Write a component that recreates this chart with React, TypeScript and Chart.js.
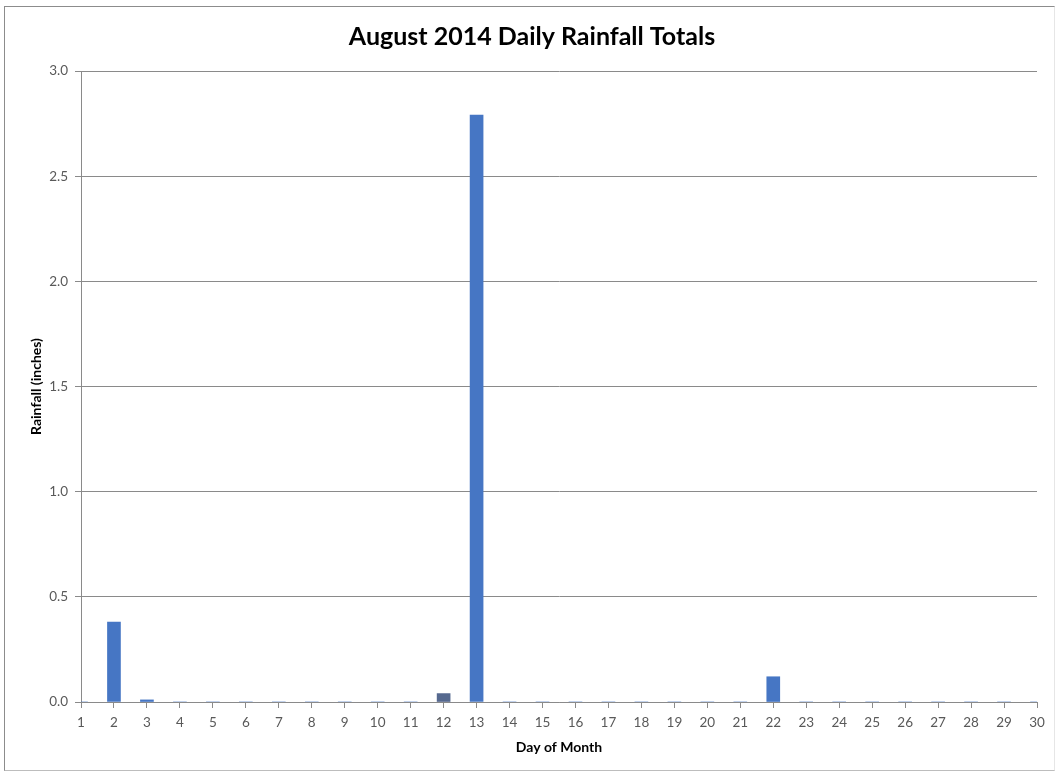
import React, { useEffect, useRef } from "react";
import { Chart, registerables } from "chart.js";

Chart.register(...registerables);

const days: string[] = [
  "1", "2", "3", "4", "5", "6", "7", "8", "9", "10",
  "11", "12", "13", "14", "15", "16", "17", "18", "19", "20",
  "21", "22", "23", "24", "25", "26", "27", "28", "29", "30",
];
const rainfall: number[] = [
  0, 0.38, 0.01, 0, 0, 0, 0, 0, 0, 0,
  0, 0.04, 2.79, 0, 0, 0, 0, 0, 0, 0,
  0, 0.12, 0, 0, 0, 0, 0, 0, 0, 0,
];
const titleText = "August 2014 Daily Rainfall Totals";
const yTitle = "Rainfall (inches)";
const xTitle = "Day of Month";

const FONT = "Lato, 'Open Sans', sans-serif";

const titlePlugin = {
  id: "customTitle",
  afterDraw(chart: any) {
    const ctx = chart.ctx;
    ctx.save();
    ctx.font = `bold 25px ${FONT}`;
    ctx.fillStyle = "#000000";
    ctx.textAlign = "center";
    ctx.textBaseline = "alphabetic";
    ctx.fillText(titleText, 532, 45);
    ctx.restore();
  },
};

export default function App() {
  const ref = useRef<HTMLCanvasElement | null>(null);
  useEffect(() => {
    if (!ref.current) return;
    const chart = new Chart(ref.current, {
      type: "bar",
      data: {
        labels: days,
        datasets: [
          {
            data: rainfall,
            backgroundColor: (ctx: any) => (ctx.dataIndex === 11 ? "#56698f" : "#4676c4"),
            borderWidth: 0,
            barThickness: 13,
          },
        ],
      },
      plugins: [titlePlugin],
      options: {
        animation: false,
        responsive: false,
        maintainAspectRatio: false,
        layout: { padding: { left: 0, right: 23, top: 71, bottom: 0 } },
        plugins: {
          legend: { display: false },
          tooltip: { enabled: false },
          title: { display: false },
        },
        scales: {
          x: {
            type: "category",
            offset: false,
            grid: {
              display: true,
              offset: false,
              drawOnChartArea: false,
              drawTicks: true,
              tickLength: 6,
              color: "#8a8a8a",
            },
            border: { display: true, color: "#8a8a8a", width: 1 },
            ticks: {
              color: "#595959",
              font: { family: FONT, size: 13.5 },
              padding: 7,
              maxRotation: 0,
              autoSkip: false,
            },
            title: {
              display: true,
              text: xTitle,
              color: "#000000",
              font: { family: FONT, size: 14, weight: "bold", lineHeight: 1.2 },
              padding: { top: 0, bottom: 15.5 },
            },
            afterFit: (s: any) => {
              s.height = 69;
            },
          },
          y: {
            min: 0,
            max: 3,
            ticks: {
              stepSize: 0.5,
              color: "#595959",
              font: { family: FONT, size: 13.5 },
              padding: 7,
              callback: (v: any) => Number(v).toFixed(1),
            },
            grid: {
              color: "#8a8a8a",
              tickLength: 6,
              drawTicks: true,
            },
            border: { display: true, color: "#8a8a8a", width: 1 },
            title: {
              display: true,
              text: yTitle,
              color: "#000000",
              font: { family: FONT, size: 14, weight: "bold", lineHeight: 1.2 },
              padding: { top: 28, bottom: 0 },
            },
            afterFit: (s: any) => {
              s.width = 81;
            },
          },
        },
      },
    });
    return () => chart.destroy();
  }, []);

  return (
    <div style={{ position: "absolute", left: 0, top: 0, width: 1060, height: 771, background: "#ffffff" }}>
      <canvas ref={ref} width={1060} height={771} style={{ display: "block", width: 1060, height: 771 }} />
      <div
        style={{
          position: "absolute",
          left: 4,
          top: 6,
          width: 1049,
          height: 763,
          borderTop: "1px solid #8c8c8c",
          borderLeft: "1px solid #8c8c8c",
          borderRight: "1px solid #e6e6e6",
          borderBottom: "1px solid #bdbdbd",
          pointerEvents: "none",
        }}
      />
    </div>
  );
}
